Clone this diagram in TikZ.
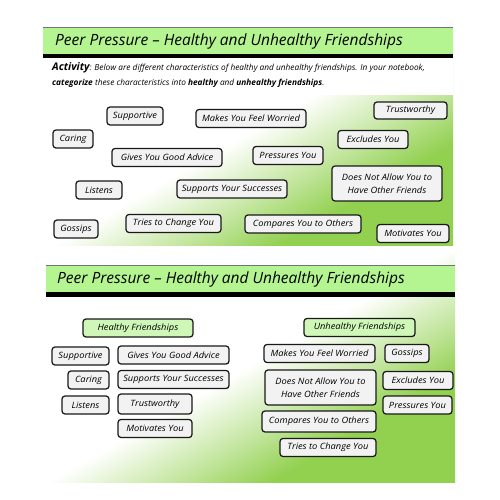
\documentclass[tikz,border=0pt]{standalone}
\usepackage{fontspec}
\newfontfamily\hand{Open Sans}
\newfontfamily\handwide{Open Sans}[FakeStretch=1.07]
\definecolor{slidegreen}{RGB}{146,208,80}
\definecolor{midgreen}{RGB}{196,230,160}
\definecolor{titlegreen}{RGB}{180,245,145}
\definecolor{headgreen}{RGB}{206,247,184}
\definecolor{cardfill}{RGB}{242,242,242}
\pgfdeclarehorizontalshading{slidegrad}{100bp}{color(0bp)=(white); color(46.1bp)=(white); color(50bp)=(midgreen); color(53.1bp)=(slidegreen); color(100bp)=(slidegreen)}
\tikzset{
  card/.style={draw=black!90, rounded corners=3pt, fill=cardfill, line width=1.25pt,
    minimum height=18pt, inner sep=1pt, align=center, font=\handwide\itshape\fontsize{8.7}{13}\selectfont},
  head/.style={card, fill=headgreen},
  titletext/.style={anchor=west, inner sep=0pt, font=\hand\itshape\fontsize{15.5}{18}\selectfont},
  acttext/.style={anchor=base west, inner sep=0pt, font=\hand\itshape\fontsize{8.3}{10}\selectfont}
}
\begin{document}
\begin{tikzpicture}[x=1pt,y=-1pt]
\useasboundingbox (0,0) rectangle (500,500);
% ---------- slide 1 ----------
\begin{scope}
  \clip (43,15) rectangle (453,245);
  \shade[shading=slidegrad, transform canvas={rotate around={-60:(250,204.4)}}] (-150,-195.6) rectangle (650,604.4);
\end{scope}
\fill[white] (43,58) rectangle (453,95);
\fill[titlegreen] (43,27) rectangle (453,54);
\draw[black!55, line width=0.8pt] (43,27) -- (453,27);
\fill[black] (43,54) rectangle (453,58);
\node[titletext] (t1) at (55,41) {Peer Pressure – Healthy and Unhealthy Friendships};
\node[acttext] (a1) at (52,71) {{\fontsize{10.5}{12}\selectfont\bfseries Activity}: Below are different characteristics of healthy and unhealthy friendships. In your notebook,};
\node[acttext] (a2) at (52,86) {\bfseries categorize\mdseries{} these characteristics into \bfseries healthy\mdseries{} and \bfseries unhealthy friendships\mdseries.};

\node[card, minimum width=56pt] (s1a) at (135,116) {Supportive};
\node[card, minimum width=40pt] (s1b) at (73,139) {Caring};
\node[card, minimum width=110pt] (s1c) at (167,157.5) {Gives You Good Advice};
\node[card, minimum width=46pt] (s1d) at (99,190) {Listens};
\node[card, minimum width=110pt] (s1e) at (232,189) {Supports Your Successes};
\node[card, minimum width=44pt] (s1f) at (76,229) {Gossips};
\node[card, minimum width=95pt] (s1g) at (173.5,223.5) {Tries to Change You};
\node[card, minimum width=110pt] (s1h) at (251,118.5) {Makes You Feel Worried};
\node[card, minimum width=116pt] (s1i) at (303,224) {Compares You to Others};
\node[card, minimum width=73pt, minimum height=17pt] (s1j) at (410.5,110.5) {Trustworthy};
\node[card, minimum width=70pt] (s1k) at (373,139.5) {Excludes You};
\node[card, minimum width=70pt] (s1l) at (288,155.5) {Pressures You};
\node[card, minimum width=110pt, minimum height=35pt] (s1m) at (387,183.5) {Does Not Allow You to\\Have Other Friends};
\node[card, minimum width=72pt] (s1n) at (413,233.5) {Motivates You};

% ---------- slide 2 ----------
\begin{scope}
  \clip (46,253) rectangle (455,482);
  \shade[shading=slidegrad, transform canvas={rotate around={-60:(250,437.6)}}] (-150,37.6) rectangle (650,837.6);
\end{scope}
\fill[titlegreen] (46,265) rectangle (455,292);
\draw[black!55, line width=0.8pt] (46,265) -- (455,265);
\fill[black] (46,292) rectangle (455,297);
\node[titletext] (t2) at (57,279) {Peer Pressure – Healthy and Unhealthy Friendships};

\node[head, minimum width=110pt] (h) at (138,328) {Healthy Friendships};
\node[card, minimum width=57pt] (s2a) at (80.5,356) {Supportive};
\node[card, minimum width=111pt] (s2b) at (173.5,355) {Gives You Good Advice};
\node[card, minimum width=41pt] (s2c) at (88.5,380) {Caring};
\node[card, minimum width=111pt] (s2d) at (173.5,379.5) {Supports Your Successes};
\node[card, minimum width=47pt] (s2e) at (85.5,405) {Listens};
\node[card, minimum width=74pt, minimum height=20pt] (s2f) at (155,404) {Trustworthy};
\node[card, minimum width=74pt] (s2g) at (155,428.5) {Motivates You};

\node[head, minimum width=111pt] (u) at (359.5,327.5) {Unhealthy Friendships};
\node[card, minimum width=111pt] (s2h) at (319.5,353.5) {Makes You Feel Worried};
\node[card, minimum width=44pt] (s2i) at (407,353.5) {Gossips};
\node[card, minimum width=111pt, minimum height=35pt] (s2j) at (320.5,387.5) {Does Not Allow You to\\Have Other Friends};
\node[card, minimum width=70pt] (s2k) at (418,380.5) {Excludes You};
\node[card, minimum width=69pt] (s2l) at (417.5,405) {Pressures You};
\node[card, minimum width=114pt, minimum height=21pt] (s2m) at (319,421.5) {Compares You to Others};
\node[card, minimum width=96pt] (s2n) at (328,447.5) {Tries to Change You};
\end{tikzpicture}
\end{document}
